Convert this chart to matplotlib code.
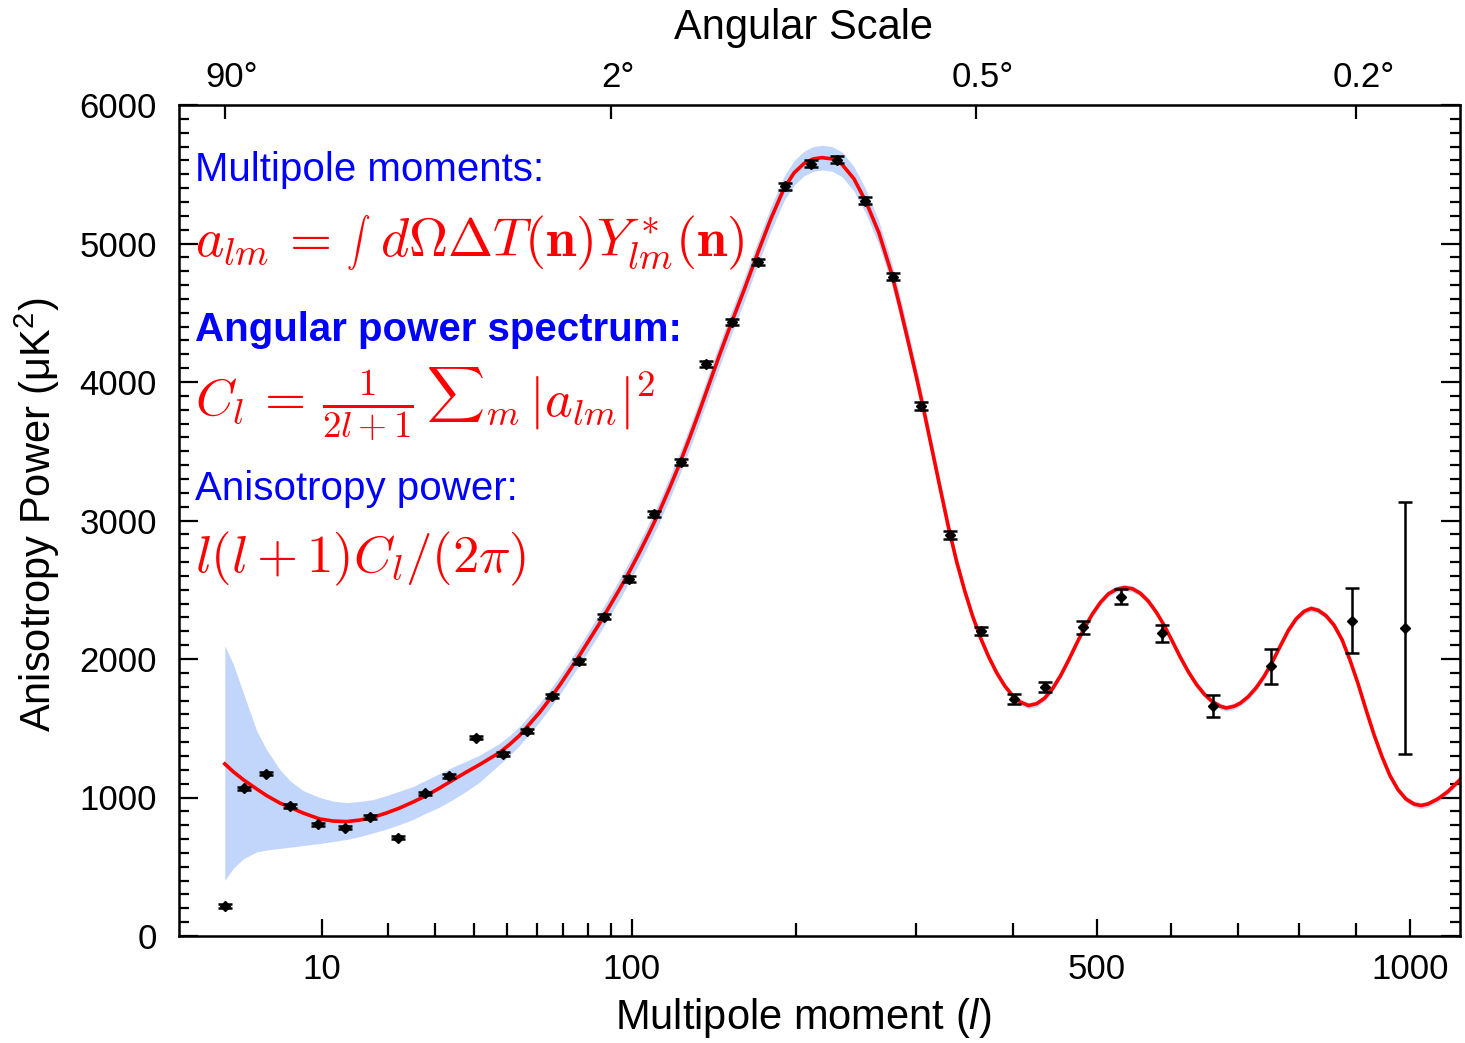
import numpy as np
import matplotlib.pyplot as plt
from matplotlib.ticker import FixedLocator, MultipleLocator, NullLocator
from matplotlib.transforms import ScaledTranslation

plt.rcParams['font.family'] = ['Liberation Sans', 'DejaVu Sans']
plt.rcParams['mathtext.fontset'] = 'custom'
plt.rcParams['mathtext.rm'] = 'Liberation Sans'
plt.rcParams['mathtext.it'] = 'Liberation Sans:italic'
plt.rcParams['mathtext.bf'] = 'Liberation Sans:bold'

# binned measurements: multipole, power (uK^2), 1-sigma error
ell = [2, 3, 4.5, 6.5, 9.5, 13, 17, 22, 27.6, 33.5, 40.6,
       48.6, 56.6, 65.7, 76.1, 87.2, 98.5, 111.4, 125.6, 140.3, 155.9,
       173.1, 191.7, 211.3, 231.6, 254.2, 278.9, 305, 333, 365,
       401, 437, 482, 531, 588, 661, 753, 892, 990]
power = [216, 1065, 1173, 939, 807, 783, 860, 711, 1029, 1156, 1431,
         1316, 1478, 1733, 1982, 2305, 2577, 3045, 3423, 4127, 4434,
         4867, 5413, 5577, 5605, 5310, 4759, 3826, 2896, 2204,
         1711, 1795, 2228, 2451, 2186, 1663, 1946, 2276, 2223]
power_err = [12, 12, 12, 12, 12, 12, 12, 12, 12, 12, 12,
             14, 15, 16, 17, 18, 19, 20, 22, 22, 24,
             24, 25, 26, 26, 26, 26, 27, 28, 30,
             34, 36, 45, 52, 60, 80, 127, 236, 912]

# best-fit model spectrum
model_ell = [2, 2.41, 2.97, 3.82, 4.54, 5.62, 6.52, 7.84, 9.72, 11.4,
             13.24, 15.25, 17.42, 19.79, 22.32, 25.03, 27.96, 31.06, 34.36, 37.89,
             41.59, 44.52, 47.56, 50.73, 54.02, 57.43, 60.97, 64.64, 68.44, 72.37,
             76.43, 80.63, 84.96, 89.42, 94.03, 98.77, 103.66, 108.69, 113.85, 119.18,
             124.64, 130.24, 136.0, 141.91, 147.97, 156.07, 163.79, 173.74, 181.97, 191.14,
             198.37, 205.76, 212.57, 219.49, 227.35, 235.38, 245.23, 255.32, 266.53, 278.03,
             285.25, 293.5, 300.97, 308.54, 316.22, 324.03, 331.94, 339.96, 348.11, 356.37,
             364.74, 373.24, 381.85, 390.57, 399.42, 408.39, 417.47, 426.67, 436.0, 445.45,
             455.01, 464.72, 474.53, 484.46, 494.52, 504.71, 515.02, 525.45, 536.03, 546.71,
             557.52, 568.46, 579.55, 590.74, 602.07, 613.52, 625.11, 636.83, 648.68, 660.66,
             672.77, 681.95, 694.28, 703.63, 716.2, 728.91, 741.76, 754.73, 767.85, 781.11,
             794.48, 808.01, 819.96, 832.02, 845.9, 859.94, 874.13, 888.45, 902.92, 917.5,
             932.24, 947.14, 962.16, 977.3, 992.63, 1008.08, 1021.71, 1035.46, 1055.3, 1075.34,
             1100]
model_power = [1243, 1187, 1129, 1062, 1014, 960, 930, 888, 845, 830,
               826, 837, 857, 888, 924, 967, 1014, 1068, 1126, 1183,
               1237, 1281, 1324, 1382, 1447, 1530, 1612, 1706, 1807, 1915,
               2024, 2139, 2254, 2377, 2500, 2629, 2766, 2911, 3062, 3228,
               3401, 3588, 3783, 3985, 4187, 4439, 4664, 4956, 5181, 5397,
               5509, 5577, 5610, 5620, 5611, 5572, 5468, 5303, 5078, 4778,
               4548, 4274, 4025, 3762, 3487, 3213, 2943, 2701, 2492, 2308,
               2150, 2016, 1901, 1807, 1735, 1688, 1664, 1677, 1717, 1786,
               1879, 1991, 2110, 2226, 2326, 2409, 2471, 2503, 2516, 2507,
               2474, 2417, 2337, 2240, 2128, 2013, 1908, 1818, 1746, 1692,
               1659, 1646, 1659, 1681, 1728, 1793, 1876, 1977, 2092, 2204,
               2290, 2344, 2365, 2352, 2312, 2244, 2139, 1991, 1822, 1634,
               1454, 1295, 1158, 1057, 989, 953, 942, 953, 990, 1043,
               1129]

# cosmic-variance band around the model
band_lo = [401, 488, 557, 607, 621, 632, 641, 653, 668, 682,
           697, 718, 744, 772, 805, 841, 888, 931, 985, 1045,
           1110, 1175, 1238, 1303, 1375, 1460, 1545, 1640, 1740, 1847,
           1955, 2069, 2183, 2305, 2427, 2555, 2691, 2835, 2985, 3150,
           3322, 3508, 3702, 3903, 4104, 4355, 4579, 4870, 5094, 5309,
           5420, 5488, 5521, 5531, 5522, 5483, 5380, 5216, 4993, 4696,
           4468, 4197, 3952, 3693, 3423, 3155, 2891, 2656, 2455, 2277,
           2123, 1992, 1878, 1785, 1713, 1666, 1642, 1655, 1695, 1764,
           1857, 1969, 2088, 2204, 2304, 2387, 2449, 2481, 2494, 2485,
           2452, 2395, 2315, 2218, 2106, 1991, 1886, 1796, 1724, 1670,
           1637, 1624, 1637, 1659, 1706, 1771, 1854, 1955, 2070, 2182,
           2268, 2322, 2343, 2330, 2290, 2222, 2117, 1969, 1800, 1612,
           1432, 1273, 1136, 1035, 967, 931, 920, 931, 968, 1021,
           1107]
band_hi = [2096, 1966, 1757, 1483, 1346, 1201, 1122, 1050, 1000, 974,
           963, 971, 985, 1014, 1046, 1079, 1126, 1173, 1220, 1262,
           1306, 1348, 1390, 1447, 1512, 1595, 1678, 1772, 1874, 1983,
           2093, 2209, 2325, 2449, 2573, 2703, 2841, 2987, 3139, 3306,
           3480, 3668, 3864, 4067, 4270, 4523, 4749, 5042, 5268, 5485,
           5598, 5666, 5699, 5709, 5700, 5661, 5556, 5390, 5163, 4860,
           4628, 4351, 4098, 3831, 3551, 3271, 2995, 2746, 2529, 2339,
           2177, 2040, 1924, 1829, 1757, 1710, 1686, 1699, 1739, 1808,
           1901, 2013, 2132, 2248, 2348, 2431, 2493, 2525, 2538, 2529,
           2496, 2439, 2359, 2262, 2150, 2035, 1930, 1840, 1768, 1714,
           1681, 1668, 1681, 1703, 1750, 1815, 1898, 1999, 2114, 2226,
           2312, 2366, 2387, 2374, 2334, 2266, 2161, 2013, 1844, 1656,
           1476, 1317, 1180, 1079, 1011, 975, 964, 975, 1012, 1065,
           1151]

xticks = [10, 100, 500, 1000]
xminor = [20, 30, 40, 50, 60, 70, 80, 90, 200, 300, 400, 600, 700, 800, 900]
angle_ell = [2, 90, 360, 900]
angle_labels = ['90°', '2°', '0.5°', '0.2°']


def fwd(x):
    x = np.asarray(x, dtype=float)
    return np.sign(x) * np.abs(x) ** 0.4


def inv(u):
    u = np.asarray(u, dtype=float)
    return np.sign(u) * np.abs(u) ** 2.5


W, H = 1465, 1043
fig = plt.figure(figsize=(W / 100, H / 100), dpi=100)
ax = fig.add_axes([179 / W, 1 - 936 / H, (1460 - 179) / W, (936 - 105) / H])

ax.fill_between(model_ell, band_lo, band_hi, color='#c2d5fa', linewidth=0, zorder=1)
ax.plot(model_ell, model_power, color='#ff0000', lw=2.6, zorder=2, solid_joinstyle='round')
ax.errorbar(ell, power, yerr=power_err, fmt='D', color='black', ms=5.2,
            elinewidth=1.8, capsize=5, capthick=1.8, zorder=3)

ax.set_xscale('function', functions=(fwd, inv))
ax.set_xlim(0.5, 1100)
ax.set_ylim(0, 6000)

ax.xaxis.set_major_locator(FixedLocator(xticks))
ax.xaxis.set_minor_locator(FixedLocator(xminor))
ax.set_xticklabels([str(t) for t in xticks])
ax.yaxis.set_major_locator(MultipleLocator(1000))
ax.yaxis.set_minor_locator(MultipleLocator(100))

ax.tick_params(axis='both', which='both', direction='in', top=False, right=True,
               width=1.6, labelsize=25)
ax.tick_params(axis='x', which='major', length=12, pad=12)
ax.tick_params(axis='x', which='minor', length=9.5)
ax.tick_params(axis='y', which='major', length=14, pad=16)
ax.tick_params(axis='y', which='minor', length=7)
for s in ax.spines.values():
    s.set_linewidth(1.8)

# angular scale along the top
top = ax.twiny()
top.set_xscale('function', functions=(fwd, inv))
top.set_xlim(ax.get_xlim())
top.xaxis.set_major_locator(FixedLocator(angle_ell))
top.xaxis.set_minor_locator(NullLocator())
top.set_xticklabels(angle_labels)
top.tick_params(axis='x', direction='in', length=10, width=1.6, pad=8, labelsize=25)
# keep the digits centred on the tick, degree sign hanging to the right
shift = ScaledTranslation(0.07, 0, fig.dpi_scale_trans)
for lab in top.get_xticklabels():
    lab.set_transform(lab.get_transform() + shift)

fig.text(803 / W, 1 - 1018 / H, 'Multipole moment ($\\mathit{l}$)', fontsize=30,
         ha='center', va='center')
fig.text(803 / W, 1 - 28 / H, 'Angular Scale', fontsize=30, ha='center', va='center')
fig.text(37 / W, 1 - 515 / H, 'Anisotropy Power (μK$^2$)', fontsize=30,
         ha='center', va='center', rotation=90)

# definitions
blue = '#0000ff'
red = '#ff0000'
x0 = 195 / W
renderer = fig.canvas.get_renderer()


def formula(parts, x, y):
    # lay out pieces of a formula one after another along a common baseline
    for s, size, dy, gap in parts:
        x += gap / W
        t = fig.text(x, y + dy / H, s, color=red, fontsize=size, va='baseline',
                     math_fontfamily='cm')
        x = t.get_window_extent(renderer=renderer).x1 / W


fig.text(x0, 1 - 181 / H, 'Multipole moments:', color=blue, fontsize=29, va='baseline')
formula([(r'$a_{lm}\,=$', 39, 0, 0),
         (r'$\int$', 17, 6, 16),
         (r'$d\Omega\Delta T(\mathbf{n})Y^*_{lm}(\mathbf{n})$', 39, 0, 10)],
        x0, 1 - 256 / H)
fig.text(x0, 1 - 341 / H, 'Angular power spectrum:', color=blue, fontsize=29,
         fontweight='bold', va='baseline')
formula([(r'$C_l\,=\,\frac{1}{2l+1}$', 38, 0, 0),
         (r'$\sum$', 29, 8, 12),
         (r'${}_m\,|a_{lm}|^2$', 38, 0, 0)],
        x0, 1 - 416 / H)
fig.text(x0, 1 - 500 / H, 'Anisotropy power:', color=blue, fontsize=29, va='baseline')
formula([(r'$l(l+1)C_l/(2\pi)$', 38, 0, 0)], x0, 1 - 572 / H)

fig.savefig('out.png', dpi=100)
